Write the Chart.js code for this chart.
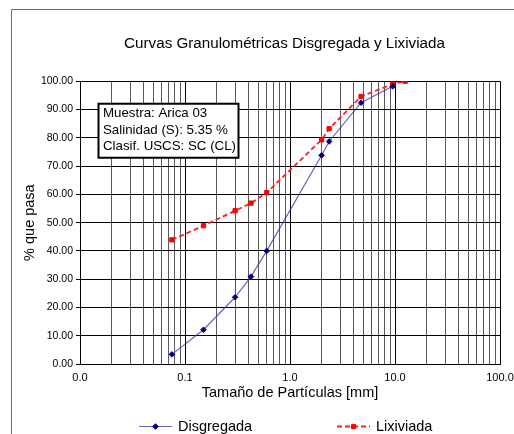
<!DOCTYPE html>
<html><head><meta charset="utf-8">
<script src="https://cdn.jsdelivr.net/npm/chart.js@4"></script>
<style>html,body{margin:0;padding:0;background:#fff;overflow:hidden;}</style>
</head><body>
<canvas id="c" width="514" height="434"></canvas>
<script>
// ---- data ----
const sizesDisgregada = [0.075, 0.15, 0.3, 0.425, 0.6, 2.0, 2.36, 4.75, 9.5];
const passDisgregada  = [3.4, 12.1, 23.6, 30.9, 40.0, 73.8, 78.7, 92.4, 98.2];
const sizesLixiviada  = [0.075, 0.15, 0.3, 0.425, 0.6, 2.0, 2.36, 4.75, 9.5, 12.5];
const passLixiviada   = [43.9, 48.9, 54.2, 56.9, 60.6, 79.3, 83.2, 94.6, 99.0, 100.0];
const yTickValues = [0, 10, 20, 30, 40, 50, 60, 70, 80, 90, 100];
const xDecades = [0.01, 0.1, 1, 10, 100];
const xMinorMultipliers = [2, 3, 4, 5, 6, 7, 8, 9];
const infoLines = ['Muestra: Arica 03', 'Salinidad (S): 5.35 %', 'Clasif. USCS: SC (CL)'];
const chartTitle = 'Curvas Granulométricas Disgregada y Lixiviada';
const xTitle = 'Tamaño de Partículas [mm]';
const yTitle = '% que pasa';

const FONT = "'Liberation Sans', Arial, Helvetica, sans-serif";

function isDecade(v) {
  const l = Math.log10(v);
  return Math.abs(l - Math.round(l)) < 1e-9;
}
function buildXTicks() {
  const t = [];
  for (let i = 0; i < xDecades.length; i++) {
    t.push({value: xDecades[i]});
    if (i < xDecades.length - 1) {
      xMinorMultipliers.forEach(m => t.push({value: +(xDecades[i] * m).toPrecision(6)}));
    }
  }
  return t;
}

const decor = {
  id: 'decor',
  beforeDraw(chart) {
    const ctx = chart.ctx;
    ctx.save();
    ctx.fillStyle = '#fff';
    ctx.fillRect(0, 0, chart.width, chart.height);
    ctx.strokeStyle = '#6e6e6e';
    ctx.lineWidth = 1;
    ctx.beginPath();
    ctx.moveTo(11.5, chart.height);
    ctx.lineTo(11.5, 9.5);
    ctx.lineTo(chart.width, 9.5);
    ctx.stroke();
    ctx.restore();
  },
  afterLayout(chart) {
    const t = chart.titleBlock;
    if (t) { t.left = 55; t.width = t.right - t.left; }
  },
  afterDraw(chart) {
    const ctx = chart.ctx;
    const a = chart.chartArea;
    ctx.save();
    // info box
    const bx = a.left + 18.5, by = a.top + 22.5, bw = 140, bh = 54;
    ctx.fillStyle = '#fff';
    ctx.fillRect(bx, by, bw, bh);
    ctx.strokeStyle = '#000';
    ctx.lineWidth = 2;
    ctx.strokeRect(bx, by, bw, bh);
    ctx.fillStyle = '#000';
    ctx.font = '13.3px ' + FONT;
    ctx.textBaseline = 'middle';
    ctx.textAlign = 'left';
    infoLines.forEach((s, i) => ctx.fillText(s, bx + 4.5, by + 10 + i * 16.5));
    // legend
    const items = [{x: 139}, {x: 337}];
    const ly = 426.5;
    chart.data.datasets.forEach((ds, i) => {
      const x0 = items[i].x;
      ctx.strokeStyle = ds.borderColor;
      ctx.lineWidth = ds.borderWidth;
      ctx.setLineDash(ds.borderDash || []);
      ctx.beginPath();
      ctx.moveTo(x0, ly);
      ctx.lineTo(x0 + 33, ly);
      ctx.stroke();
      ctx.setLineDash([]);
      ctx.fillStyle = ds.pointBackgroundColor;
      ctx.strokeStyle = ds.pointBorderColor;
      ctx.lineWidth = 1;
      Chart.helpers.drawPoint(ctx, {pointStyle: ds.pointStyle, radius: ds.pointRadius, borderWidth: 1, rotation: 0}, x0 + 16.5, ly);
      ctx.fillStyle = '#000';
      ctx.font = '14.5px ' + FONT;
      ctx.textBaseline = 'middle';
      ctx.fillText(ds.label, x0 + 39, ly);
    });
    ctx.restore();
  }
};

new Chart(document.getElementById('c'), {
  type: 'scatter',
  data: {
    datasets: [
      {
        label: 'Disgregada',
        data: sizesDisgregada.map((x, i) => ({x, y: passDisgregada[i]})),
        showLine: true,
        borderColor: 'rgba(50,50,170,0.75)',
        borderWidth: 1.2,
        pointStyle: 'rectRot',
        pointRadius: 2.8,
        pointBackgroundColor: '#000080',
        pointBorderColor: '#000080',
        pointBorderWidth: 1,
        tension: 0
      },
      {
        label: 'Lixiviada',
        data: sizesLixiviada.map((x, i) => ({x, y: passLixiviada[i]})),
        showLine: true,
        borderColor: '#ff2020',
        borderWidth: 1.8,
        borderDash: [5, 3],
        pointStyle: 'rect',
        pointRadius: 3,
        pointBackgroundColor: '#ff0000',
        pointBorderColor: '#ff0000',
        pointBorderWidth: 1,
        tension: 0
      }
    ]
  },
  options: {
    responsive: false,
    devicePixelRatio: 1,
    animation: false,
    layout: {padding: {left: 0, right: 0, top: 0, bottom: 32}},
    plugins: {
      legend: {display: false},
      tooltip: {enabled: false},
      title: {
        display: true,
        text: chartTitle,
        color: '#000',
        font: {family: FONT, size: 15.2, weight: 'normal'},
        padding: {top: 34.5, bottom: 28.5}
      }
    },
    scales: {
      x: {
        type: 'logarithmic',
        min: 0.01,
        max: 100,
        afterBuildTicks(scale) { scale.ticks = buildXTicks(); },
        afterFit(scale) { scale.height = 38; scale.paddingRight = 14; scale.paddingLeft = 0; },
        ticks: {
          autoSkip: false,
          maxRotation: 0,
          padding: 7,
          color: '#000',
          font: {family: FONT, size: 11},
          callback(v) { return isDecade(v) ? Number(v).toFixed(1) : ''; }
        },
        grid: {
          drawTicks: false,
          lineWidth: 1,
          color(ctx) { return ctx.tick && isDecade(ctx.tick.value) ? '#000' : '#5a5a5a'; }
        },
        border: {color: '#000'},
        title: {
          display: true,
          text: xTitle,
          color: '#000',
          font: {family: FONT, size: 14.5},
          padding: {top: 0, bottom: 0}
        }
      },
      y: {
        type: 'linear',
        min: 0,
        max: 100,
        afterBuildTicks(scale) { scale.ticks = yTickValues.map(v => ({value: v})); },
        afterFit(scale) { scale.width = 80; },
        ticks: {
          padding: 3,
          color: '#000',
          font: {family: FONT, size: 10.5},
          callback(v) { return Number(v).toFixed(2); }
        },
        grid: {color: '#000', lineWidth: 1, tickLength: 4},
        border: {color: '#000'},
        title: {
          display: true,
          text: yTitle,
          color: '#000',
          font: {family: FONT, size: 14.5},
          padding: {top: 21, bottom: 0}
        }
      }
    }
  },
  plugins: [decor]
});
</script>
</body></html>
